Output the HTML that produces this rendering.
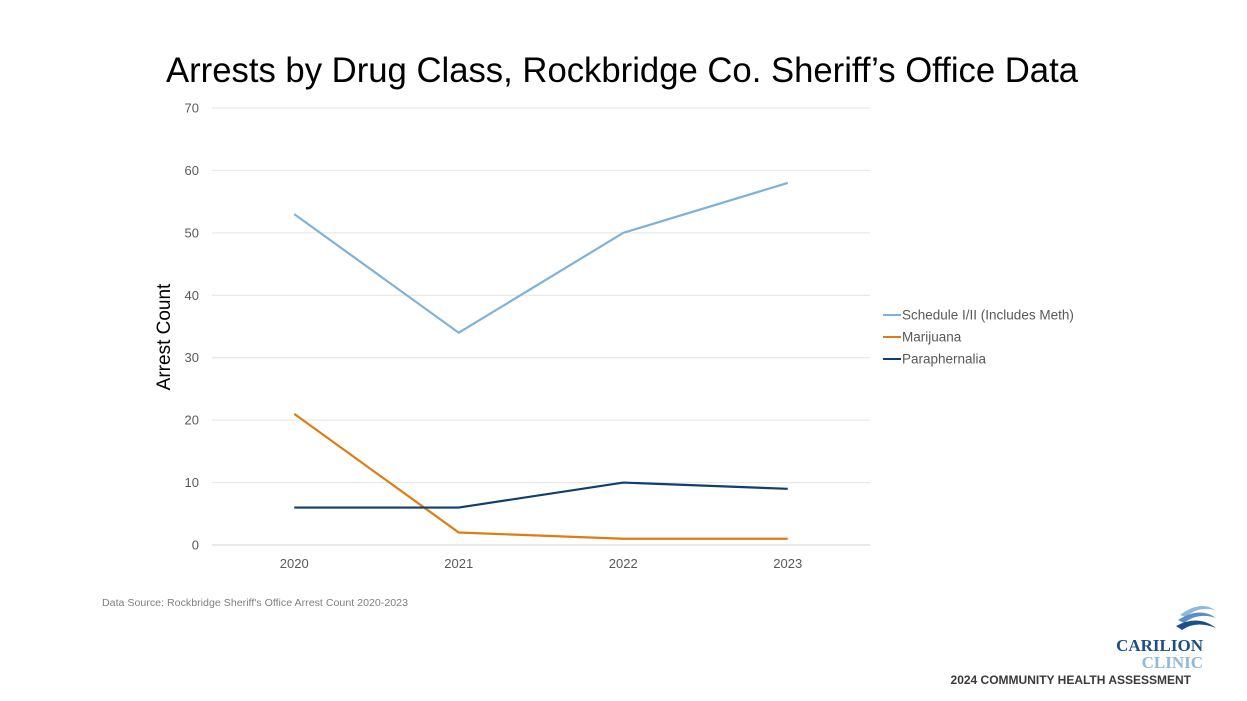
<!DOCTYPE html>
<html><head><meta charset="utf-8"><style>
body{margin:0;background:#fff;font-family:"Liberation Sans",sans-serif;}
#wrap{position:relative;width:1247px;height:701px;overflow:hidden;}
</style></head><body>
<div id="wrap">
<svg id="chart" width="1247" height="701" style="position:absolute;left:0;top:0">
<text x="622" y="82" text-anchor="middle" font-size="35" fill="#000" textLength="912" lengthAdjust="spacingAndGlyphs">Arrests by Drug Class, Rockbridge Co. Sheriff’s Office Data</text>
<g id="grid"></g>
<g id="yticks"></g>
<g id="xticks"></g>
<g id="series"></g>
<text transform="translate(170,337) rotate(-90)" text-anchor="middle" font-size="19" fill="#000">Arrest Count</text>
<g id="legend"></g>
<text x="102" y="606" font-size="10" fill="#7f7f7f" textLength="306" lengthAdjust="spacingAndGlyphs">Data Source: Rockbridge Sheriff's Office Arrest Count 2020-2023</text>
<g>
<path d="M1180 615 Q1200 600 1215 610 Q1198 606 1186 617 Z" fill="#8fb8dc"/>
<path d="M1178 620 Q1200 606 1216 618 Q1198 612 1184 623 Z" fill="#5a8fc3"/>
<path d="M1176 626 Q1198 614 1216 628 Q1196 620 1182 630 Z" fill="#1d4f86"/>
<text x="1203" y="651" text-anchor="end" font-size="17" font-weight="bold" font-family="Liberation Serif, serif" fill="#1d4f86">CARILION</text>
<text x="1203" y="668" text-anchor="end" font-size="17" font-weight="bold" font-family="Liberation Serif, serif" fill="#8fb8dc">CLINIC</text>
</g>
<text x="1191" y="684" text-anchor="end" font-size="12" font-weight="bold" fill="#3a3a3a">2024 COMMUNITY HEALTH ASSESSMENT</text>
</svg>
</div>
<script>
const categories=["2020","2021","2022","2023"];
const yTicks=[0,10,20,30,40,50,60,70];
const seriesNames=["Schedule I/II (Includes Meth)","Marijuana","Paraphernalia"];
const scheduleVals=[53,34,50,58];
const marijuanaVals=[21,2,1,1];
const paraVals=[6,6,10,9];
const colors=["#7fb2d9","#e07b10","#0e3f6e"];
const NS="http://www.w3.org/2000/svg";
const L=212,R=870,T=108,B=545;
function x(i){return L+(R-L)/categories.length*(i+0.5);}
function y(v){return B-(B-T)*v/70;}
function mk(tag,attrs,parent){const e=document.createElementNS(NS,tag);for(const k in attrs)e.setAttribute(k,attrs[k]);document.getElementById(parent).appendChild(e);return e;}
yTicks.forEach(v=>{
 const g=mk('line',{x1:L,x2:R,y1:y(v),y2:y(v),stroke:v===0?'#d0d0d0':'#e4e4e4','stroke-width':1},'grid');
 
 
 const t=mk('text',{x:199,y:y(v)+4.5,'text-anchor':'end','font-size':13,fill:'#595959'},'yticks');
 t.textContent=v;
 
 
});
categories.forEach((c,i)=>{
 const t=mk('text',{x:x(i),y:568,'text-anchor':'middle','font-size':13,fill:'#595959'},'xticks');
 t.textContent=c;
 
 
});
[scheduleVals,marijuanaVals,paraVals].forEach((vals,s)=>{
 const p=mk('polyline',{points:vals.map((v,i)=>x(i)+','+y(v)).join(' '),fill:'none',stroke:colors[s],'stroke-width':2.2},'series');
 
 
 const ly=315+s*22;
 const ll=mk('line',{x1:883,x2:901,y1:ly,y2:ly,stroke:colors[s],'stroke-width':2},'legend');
 
 
 const lt=mk('text',{x:902,y:ly+4.5,'font-size':13.5,fill:'#595959'},'legend');
 lt.textContent=seriesNames[s];
 
 
});
</script>
</body></html>
